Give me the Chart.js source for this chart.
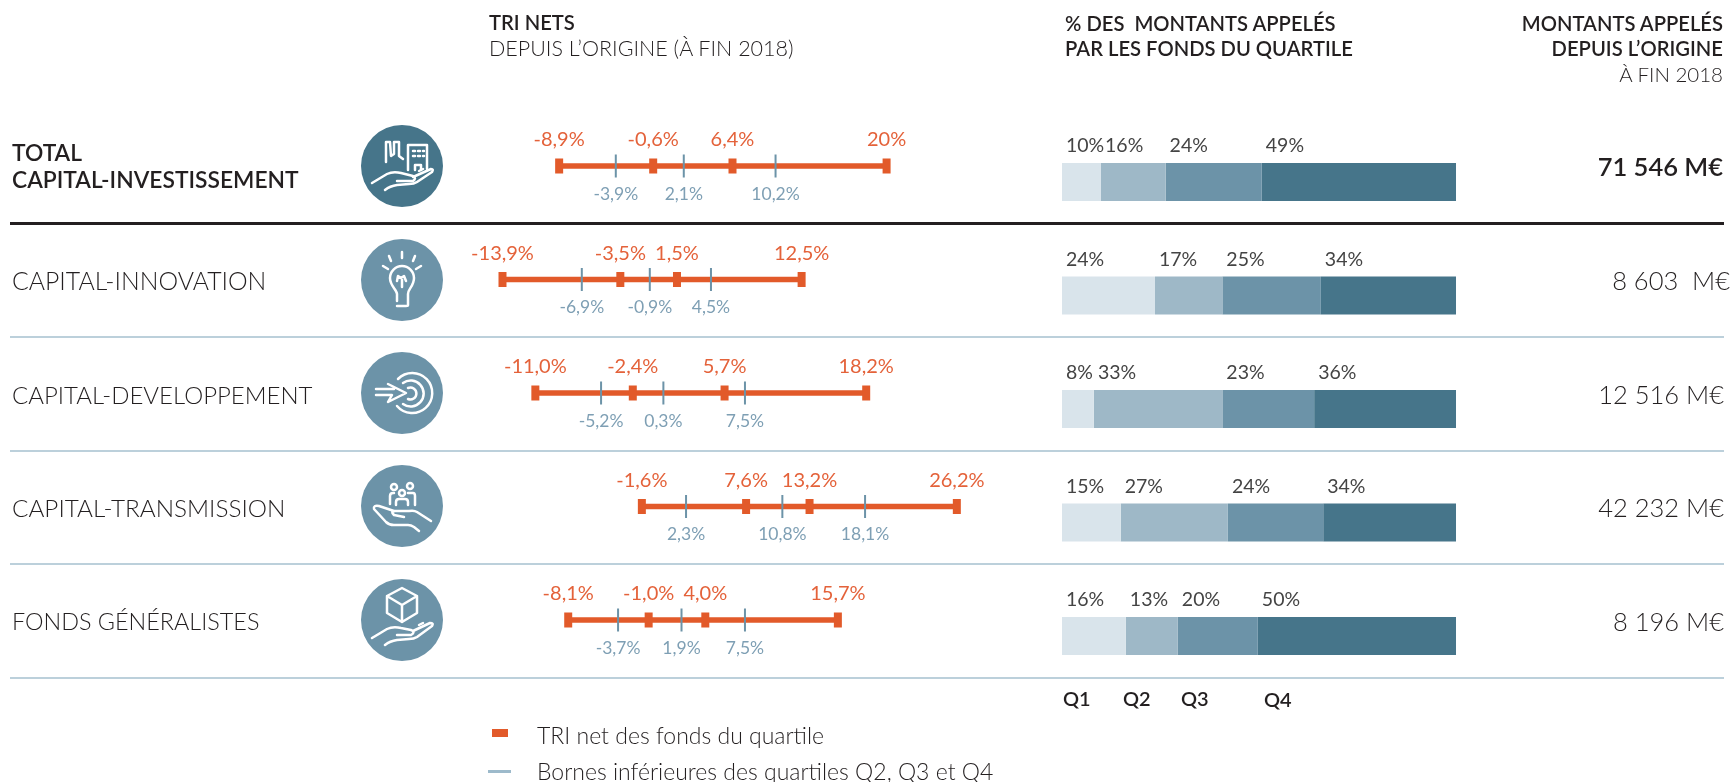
<!DOCTYPE html>
<html lang="fr">
<head>
<meta charset="utf-8">
<title>TRI nets et montants appelés par quartile</title>
<script src="https://cdn.jsdelivr.net/npm/chart.js@4/dist/chart.umd.min.js"></script>
<style>
    html, body { margin: 0; padding: 0; background: #fff; }
    body { position: relative; width: 1735px; height: 782px; overflow: hidden; font-family: Lato, "Open Sans", sans-serif; color: #231f20; }
    canvas { position: absolute; left: 0; top: 0; }
    .t { position: absolute; white-space: pre; transform: translateY(-50%); line-height: 1; }
    .head { font-size: 20.2px; font-weight: 600; }
    .thin { font-size: 20.5px; font-weight: 300; }
    .right { transform: translate(-100%, -50%); }
    .name { font-size: 24.3px; font-weight: 300; left: 12px; }
    .total { font-size: 22.8px; font-weight: 600; }
    .amount { font-size: 25.5px; font-weight: 300; }
    .q { font-size: 20px; font-weight: 600; }
    .leg { font-size: 23px; font-weight: 300; }
    .rule { position: absolute; left: 10px; width: 1714px; height: 1.5px; background: #bcd0db; }
    .icon { position: absolute; left: 361px; width: 82px; height: 82px; }
    .icon g { fill: none; stroke: #fff; stroke-width: 2.5; stroke-linecap: round; stroke-linejoin: round; }
</style>
</head>
<body>
<canvas id="chart" width="1735" height="782"></canvas>

<div class="t head" style="left:489px;top:22px">TRI NETS</div>
<div class="t thin" style="left:489px;top:49px;font-size:21.5px">DEPUIS L’ORIGINE (À FIN 2018)</div>
<div class="t head" style="left:1065px;top:23px">% DES  MONTANTS APPELÉS</div>
<div class="t head" style="left:1065px;top:48px">PAR LES FONDS DU QUARTILE</div>
<div class="t head right" style="left:1723px;top:23px">MONTANTS APPELÉS</div>
<div class="t head right" style="left:1723px;top:48px">DEPUIS L’ORIGINE</div>
<div class="t thin right" style="left:1723px;top:74px">À FIN 2018</div>

<div class="t name total" style="top:152px">TOTAL</div>
<div class="t name total" style="top:179px">CAPITAL-INVESTISSEMENT</div>
<div class="t name" style="top:281px;font-size:24.8px">CAPITAL-INNOVATION</div>
<div class="t name" style="top:395px;font-size:24px">CAPITAL-DEVELOPPEMENT</div>
<div class="t name" style="top:508px">CAPITAL-TRANSMISSION</div>
<div class="t name" style="top:622px;font-size:23.4px">FONDS GÉNÉRALISTES</div>

<div class="t amount right" style="left:1723px;top:167px;font-weight:600">71 546 M€</div>
<div class="t amount right" style="left:1730px;top:281px">8 603  M€</div>
<div class="t amount right" style="left:1724px;top:395px">12 516 M€</div>
<div class="t amount right" style="left:1724px;top:508px">42 232 M€</div>
<div class="t amount right" style="left:1724px;top:622px">8 196 M€</div>

<div class="rule" style="top:222px;height:3px;background:#231f20"></div>
<div class="rule" style="top:336px"></div>
<div class="rule" style="top:450px"></div>
<div class="rule" style="top:563px"></div>
<div class="rule" style="top:677px"></div>

<div class="t q" style="left:1063px;top:698px">Q1</div>
<div class="t q" style="left:1123px;top:698px">Q2</div>
<div class="t q" style="left:1181px;top:698px">Q3</div>
<div class="t q" style="left:1264px;top:699px">Q4</div>

<div style="position:absolute;left:492px;top:729px;width:16px;height:8px;background:#e25a2a"></div>
<div class="t leg" style="left:537px;top:735px">TRI net des fonds du quartile</div>
<div style="position:absolute;left:488px;top:770px;width:23px;height:3px;background:#9dbacb"></div>
<div class="t leg" style="left:537px;top:771px">Bornes inférieures des quartiles Q2, Q3 et Q4</div>

<svg class="icon" style="top:125px" viewBox="0 0 82 82"><circle cx="41" cy="41" r="41" fill="#46758a"/><g>
    <path d="M25 37V17h4l1 14 3-2V17h5v14l4 3"/><path d="M47 45V20h19v24"/><path d="M54 45v-5h6v5"/>
    <path d="M52 26h2M57 26h2M62 26h1M52 31h2M57 31h2M62 31h1"/>
    <path d="M11 58l15-9q6-3 14-1l12 3q4 2 0 5H36"/><path d="M52 52l18-8q3 0 1 3L56 57q-3 2-8 2l-12 1q-7 1-12 5"/><path d="M58 46l4-2"/></g></svg>
<svg class="icon" style="top:238.5px" viewBox="0 0 82 82"><circle cx="41" cy="41" r="41" fill="#6c93a8"/><g>
    <path d="M36 62V55c0-4-7-8-7-16a12 12 0 0 1 24 0c0 8-6 11-6 16v11q0 1-2 1H36"/><path d="M36 42l1-5 3 2 3-2 2 5M41 40v8"/>
    <path d="M41 13v6M28 17l2 5M54 17l-2 5M22 27l5 3M60 27l-5 3"/></g></svg>
<svg class="icon" style="top:352px" viewBox="0 0 82 82"><circle cx="41" cy="41" r="41" fill="#6c93a8"/><g>
    <path d="M27 32l18 9-18 9 4-7H15M15 37h18"/>
    <path d="M37 27a20 20 0 1 1-1 27"/><path d="M42 31a13 13 0 1 1 0 21"/><path d="M47 36a6 6 0 1 1 0 11"/></g></svg>
<svg class="icon" style="top:465px" viewBox="0 0 82 82"><circle cx="41" cy="41" r="41" fill="#6c93a8"/><g>
    <circle cx="33" cy="22" r="3"/><circle cx="41" cy="28" r="3"/><circle cx="49" cy="21" r="3"/>
    <path d="M29 39v-8q0-3 3-3h1M35 40v-3q0-3 3-3h6q3 0 3 3v3M47 28h5q2 0 2 3v9"/>
    <path d="M70 56L56 47q-3-2-8-1H34q-5 0-1 4l10 2"/><path d="M33 46L18 41q-6-1-5 3l12 13q3 3 8 3h14q3 0 6 2l5 4"/></g></svg>
<svg class="icon" style="top:579px" viewBox="0 0 82 82"><circle cx="41" cy="41" r="41" fill="#6c93a8"/><g>
    <path d="M41 9l15 8v17l-15 9-15-9V17zM26 17l15 9 15-9M41 26v17"/>
    <path d="M11 59l15-9q6-3 14-1l10 2q5 2 0 5H36"/><path d="M52 52l17-8q4 0 2 3L56 58q-3 2-8 2l-12 1q-7 1-12 5"/><path d="M58 46l4-2"/></g></svg>

<script>
// TRI nets par quartile, une valeur par ligne
const rowNames = ["TOTAL CAPITAL-INVESTISSEMENT", "CAPITAL-INNOVATION", "CAPITAL-DEVELOPPEMENT", "CAPITAL-TRANSMISSION", "FONDS GENERALISTES"];
const triQ1 = [-8.9, -13.9, -11.0, -1.6, -8.1];
const triQ2 = [-0.6, -3.5, -2.4, 7.6, -1.0];
const triQ3 = [6.4, 1.5, 5.7, 13.2, 4.0];
const triQ4 = [20, 12.5, 18.2, 26.2, 15.7];
const triQ4Labels = ["20%", "12,5%", "18,2%", "26,2%", "15,7%"];

// Bornes inferieures des quartiles
const boundQ2 = [-3.9, -6.9, -5.2, 2.3, -3.7];
const boundQ3 = [2.1, -0.9, 0.3, 10.8, 1.9];
const boundQ4 = [10.2, 4.5, 7.5, 18.1, 7.5];

const shareQ1 = [9.9, 23.6, 8.1, 14.9, 16.2];
const shareQ2 = [16.4, 17.1, 32.6, 27.2, 13.2];
const shareQ3 = [24.4, 25.0, 23.3, 24.2, 20.3];
const shareQ4 = [49.3, 34.3, 36.0, 33.7, 50.3];

const orange = "#e25a2a";
const steel = "#6c93a8";
const pct = v => v.toFixed(1).replace(".", ",") + "%";

const rowLines = rowNames.map((name, i) => ({
    type: "scatter",
    label: name,
    xAxisID: "xTri",
    yAxisID: "yTri",
    order: 1,
    showLine: true,
    borderColor: orange,
    borderWidth: 5.5,
    pointStyle: "line",
    pointRotation: 90,
    pointRadius: 7.5,
    pointBorderColor: orange,
    pointBorderWidth: 8,
    data: [triQ1[i], triQ2[i], triQ3[i], triQ4[i]].map(x => ({ x: x, y: i }))
}));

const boundTicks = {
    type: "scatter",
    label: "Bornes",
    xAxisID: "xTri",
    yAxisID: "yTri",
    order: 0,
    showLine: false,
    pointStyle: "line",
    pointRotation: 90,
    pointRadius: 11.5,
    pointBorderColor: steel,
    pointBorderWidth: 2,
    data: rowNames.flatMap((name, i) => [boundQ2[i], boundQ3[i], boundQ4[i]].map(x => ({ x: x, y: i })))
};

const shareSeries = [shareQ1, shareQ2, shareQ3, shareQ4];
const shareColors = ["#d9e4eb", "#9eb8c7", "#6c93a8", "#46758a"];
const shareBars = shareSeries.map((values, k) => ({
    type: "bar",
    label: "Q" + (k + 1),
    indexAxis: "y",
    xAxisID: "xShare",
    yAxisID: "y",
    order: 2,
    data: values,
    backgroundColor: shareColors[k],
    borderWidth: 0,
    // grouped: false, sinon les deux axes x divisent la bande en deux
    grouped: false,
    maxBarThickness: 38
}));

// Libelles de valeurs, places avec les echelles du graphique
const valueLabels = {
    id: "valueLabels",
    afterDatasetsDraw(chart) {
        const { ctx, scales } = chart;
        ctx.save();
        ctx.textBaseline = "middle";

        rowNames.forEach((name, i) => {
            const y = scales.yTri.getPixelForValue(i);

            ctx.textAlign = "center";
            ctx.font = "400 20px Lato";
            ctx.fillStyle = "#e4623a";
            [[triQ1[i], pct(triQ1[i])], [triQ2[i], pct(triQ2[i])], [triQ3[i], pct(triQ3[i])], [triQ4[i], triQ4Labels[i]]].forEach(([v, text]) => {
                ctx.fillText(text, scales.xTri.getPixelForValue(v), y - 26);
            });

            ctx.font = "400 17.5px Lato";
            ctx.fillStyle = "#7e9fb4";
            [boundQ2[i], boundQ3[i], boundQ4[i]].forEach(v => {
                ctx.fillText(pct(v), scales.xTri.getPixelForValue(v), y + 28);
            });

            // parts : au debut de chaque segment, au-dessus de la barre
            ctx.textAlign = "left";
            ctx.font = "400 19.5px Lato";
            ctx.fillStyle = "#444";
            let start = 0;
            shareSeries.forEach(values => {
                ctx.fillText(Math.round(values[i]) + "%", scales.xShare.getPixelForValue(start) + 4, scales.y.getPixelForValue(i) - 36);
                start += values[i];
            });
        });

        ctx.restore();
    }
};

new Chart(document.getElementById("chart").getContext("2d"), {
    data: {
        labels: rowNames,
        datasets: [boundTicks, ...rowLines, ...shareBars]
    },
    plugins: [valueLabels],
    options: {
        responsive: false,
        animation: false,
        events: [],
        // autoPadding retire sinon, les echelles ne tombent plus sur les pixels voulus
        layout: { autoPadding: false, padding: { top: 125.25, bottom: 89.25, left: 0, right: 0 } },
        plugins: {
            legend: { display: false },
            title: { display: false },
            tooltip: { enabled: false }
        },
        scales: {
            // 0 a 660 px, 11,33 px par point de TRI
            xTri: { type: "linear", axis: "x", display: false, bounds: "data", min: -58.25, max: 94.88 },
            // 0 a 1062 px, 3,94 px par point de pourcentage
            xShare: { type: "linear", axis: "x", display: false, bounds: "data", stacked: true, min: -269.54, max: 170.81 },
            y: { type: "category", axis: "y", display: false, stacked: true, offset: true },
            // lignes de TRI 16 px au-dessus du centre des barres
            yTri: { type: "linear", axis: "y", display: false, bounds: "data", reverse: true, min: -0.359, max: 4.641 }
        }
    }
});
</script>
</body>
</html>
